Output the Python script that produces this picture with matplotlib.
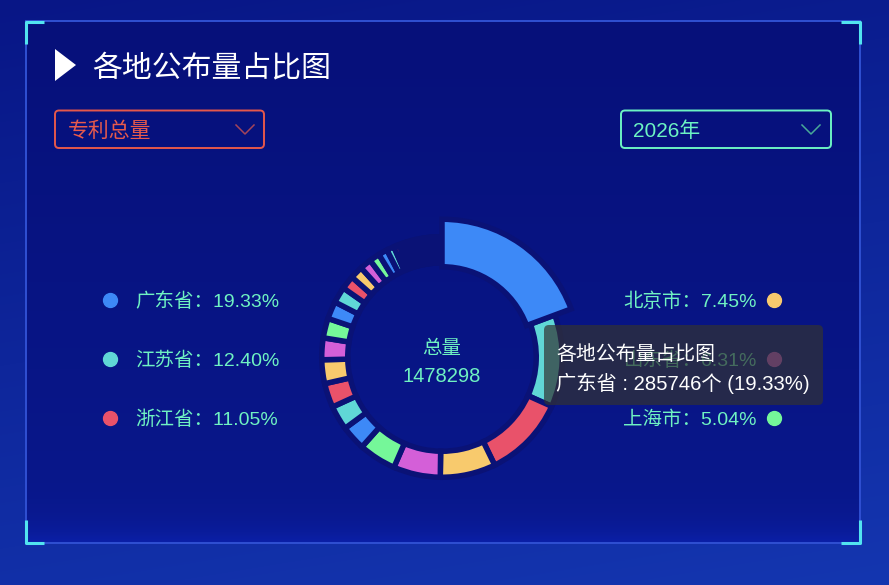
import numpy as np
import matplotlib
matplotlib.use('Agg')
import matplotlib.pyplot as plt
from matplotlib.patches import FancyBboxPatch, Polygon, Rectangle

# Latin glyphs from Liberation Sans, Chinese falls back to Noto Sans CJK
plt.rcParams['font.family'] = ['Liberation Sans', 'Noto Sans CJK SC', 'DejaVu Sans']

# data (sorted, largest first)
provinces = ['广东省', '江苏省', '浙江省', '北京市', '山东省', '上海市',
             '四川省', '湖北省', '安徽省', '河南省', '福建省', '湖南省', '天津市', '陕西省',
             '辽宁省', '重庆市', '河北省', '江西省', '黑龙江省', '广西', '吉林省', '山西省',
             '云南省', '贵州省', '甘肃省', '内蒙古', '新疆', '海南省', '宁夏', '青海省',
             '西藏', '香港', '澳门', '台湾省']
counts = [285746, 183309, 163352, 110133, 93281, 74506,
          49277, 48455, 48045, 47223, 43117, 39011, 34904, 32030,
          27102, 25460, 22996, 20532, 18068, 14783, 11498, 9855,
          9445, 9034, 8623, 7802, 7391, 6570, 6160, 5749,
          4928, 4106, 3285, 2522]
palette = ['#3d89f7', '#60d7d6', '#e9526a', '#f8ca6d', '#d45fd8', '#75f799']
title = '各地公布量占比图'
metric_label = '专利总量'
year_label = '2026年'
center_label = '总量'
highlight = 0  # slice under the tooltip

W, H = 889, 585
total = sum(counts)
pcts = [c / total * 100 for c in counts]
mint = '#6ff2c2'

fig = plt.figure(figsize=(W / 100, H / 100), dpi=100)

# ---- background (pixel coordinates) ----
ax = fig.add_axes([0, 0, 1, 1])
ax.set_xlim(0, W)
ax.set_ylim(H, 0)
ax.axis('off')

yy, xx = np.mgrid[0:H, 0:W]
t = yy / H * 0.8 + xx / W * 0.2
top, bot = np.array([8, 22, 134]), np.array([20, 54, 176])
bg = top + (bot - top) * t[..., None]
px0, py0, px1, py1 = 26, 21, 860, 543
inside = (xx >= px0) & (xx <= px1) & (yy >= py0) & (yy <= py1)
tp = np.clip((yy - py0) / (py1 - py0), 0, 1)
ptop, pbot = np.array([6, 16, 122]), np.array([9, 24, 140])
panel = ptop + (pbot - ptop) * tp[..., None]
panel = panel + np.array([2, 8, 30]) * np.exp(-np.abs(py1 - yy) / 18.0)[..., None]
bg[inside] = panel[inside]
ax.imshow(np.clip(bg, 0, 255).astype(np.uint8), extent=(0, W, H, 0), aspect='auto', zorder=0)

# panel frame and corner brackets
ax.add_patch(Rectangle((px0, py0), px1 - px0, py1 - py0, fill=False, ec='#3050d2', lw=1.4, zorder=1))
cyan = '#52e4f0'
for xs, ys in [([26, 26, 44], [44, 21.5, 21.5]), ([841, 860, 860], [21.5, 21.5, 44]),
               ([26, 26, 44], [520, 543, 543]), ([841, 860, 860], [543, 543, 520])]:
    ax.plot(xs, ys, color=cyan, lw=2.2, solid_capstyle='butt', zorder=2)

# title
ax.add_patch(Polygon([(55, 49), (55, 81), (76, 65)], closed=True, fc='white', ec='none'))
ax.text(92, 68, title, color='white', fontsize=21.5, ha='left', va='center')

# dropdowns
ax.add_patch(FancyBboxPatch((55, 110.5), 209, 37.5, boxstyle='round,pad=0,rounding_size=4',
                            fc='none', ec='#e5574b', lw=1.4))
ax.text(68, 131, metric_label, color='#e85a4c', fontsize=15, ha='left', va='center')
ax.plot([236, 245, 254], [125, 134, 125], color='#a3445a', lw=1.1)

ax.add_patch(FancyBboxPatch((621, 110.5), 210, 37.5, boxstyle='round,pad=0,rounding_size=4',
                            fc='none', ec='#6cf3c3', lw=1.4))
ax.text(633, 131, year_label, color='#6cf3c3', fontsize=15, ha='left', va='center')
ax.plot([802, 811, 820], [125, 134, 125], color='#48a898', lw=1.1)

# legend: first three on the left, next three on the right
rows_y = [300, 359, 418]
for i in range(6):
    y = rows_y[i % 3]
    label = f'{provinces[i]}：{pcts[i]:.2f}%'
    if i < 3:
        ax.scatter([110], [y], s=100, color=palette[i], zorder=3)
        ax.text(135, y + 2, label, color=mint, fontsize=14, ha='left', va='center')
    else:
        ax.scatter([774], [y], s=100, color=palette[i], zorder=3)
        ax.text(757, y + 2, label, color=mint, fontsize=14, ha='right', va='center')

# ---- donut ----
cx, cy, half = 442, 357, 150
axp = fig.add_axes([(cx - half) / W, (H - cy - half) / H, 2 * half / W, 2 * half / H])
colors = [palette[i % len(palette)] for i in range(len(counts))]
wedges, _ = axp.pie(counts, radius=120.25, startangle=90, counterclock=False, colors=colors,
                    wedgeprops=dict(width=26, edgecolor='#0a1276', linewidth=3.95))
wedges[highlight].set_radius(137.75)
wedges[highlight].set_width(47.5)
wedges[highlight].set_zorder(5)
axp.set_xlim(-half, half)
axp.set_ylim(-half, half)
axp.axis('off')
axp.text(0, 8, center_label, color=mint, fontsize=14, ha='center', va='center')
axp.text(0, -20, f'{total}', color=mint, fontsize=14.5, ha='center', va='center')

# ---- tooltip ----
axt = fig.add_axes([0, 0, 1, 1])
axt.set_xlim(0, W)
axt.set_ylim(H, 0)
axt.axis('off')
axt.add_patch(FancyBboxPatch((544, 325), 279, 80, boxstyle='round,pad=0,rounding_size=5',
                             fc=(50 / 255, 50 / 255, 50 / 255, 0.7), ec='none'))
axt.text(556, 355, title, color='white', fontsize=14.3, ha='left', va='center')
axt.text(556, 383, f'{provinces[highlight]} : {counts[highlight]}个 ({pcts[highlight]:.2f}%)',
         color='white', fontsize=14.6, ha='left', va='center')

fig.savefig('out.png', dpi=100)
